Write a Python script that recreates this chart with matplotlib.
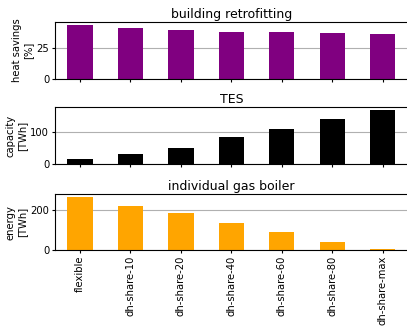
import numpy as np
import matplotlib
matplotlib.use("Agg")
import matplotlib.pyplot as plt

scenarios = ["flexible", "dh-share-10", "dh-share-20", "dh-share-40",
             "dh-share-60", "dh-share-80", "dh-share-max"]
heat_savings = [44.4, 41.9, 40.3, 38.7, 38.7, 37.9, 37.1]
tes_capacity = [16.5, 33, 50.5, 84.5, 109, 140, 168]
gas_boiler = [266, 222, 187, 135, 91, 42, 8]

panels = [
    ("building retrofitting", "heat savings\n[%]", heat_savings, "purple", [0, 25]),
    ("TES", "capacity\n[TWh]", tes_capacity, "black", [0, 100]),
    ("individual gas boiler", "energy\n[TWh]", gas_boiler, "orange", [0, 200]),
]

fig = plt.figure(figsize=(4.07, 3.27), dpi=100)
left = 54.75 / 407
width = (408 - 54.75) / 407
# (top px, bottom px) of each panel
rows = [(22, 79), (107, 164.3), (194, 250.3)]

x = np.arange(len(scenarios))
for i, ((title, ylabel, vals, color, yt), (top, bot)) in enumerate(zip(panels, rows)):
    ax = fig.add_axes([left, (327 - bot) / 327, width, (bot - top) / 327])
    ax.bar(x, vals, width=0.5, color=color, zorder=2)
    ax.set_xlim(-0.5, len(scenarios) - 0.5)
    ax.set_ylim(0, max(vals) * 1.05)
    ax.set_yticks(yt)
    ax.yaxis.grid(True, color="#b0b0b0", lw=0.8, zorder=0)
    ax.set_title(title, fontsize=9, pad=3)
    ax.set_ylabel(ylabel, fontsize=7.2, labelpad=2)
    ax.tick_params(labelsize=7.2, length=2.5, width=0.8, pad=1.5)
    ax.set_xticks(x)
    if i < 2:
        ax.set_xticklabels([])
    else:
        ax.set_xticklabels(scenarios, rotation=90)
    for s in ax.spines.values():
        s.set_linewidth(0.8)

fig.savefig("out.png", dpi=100)
